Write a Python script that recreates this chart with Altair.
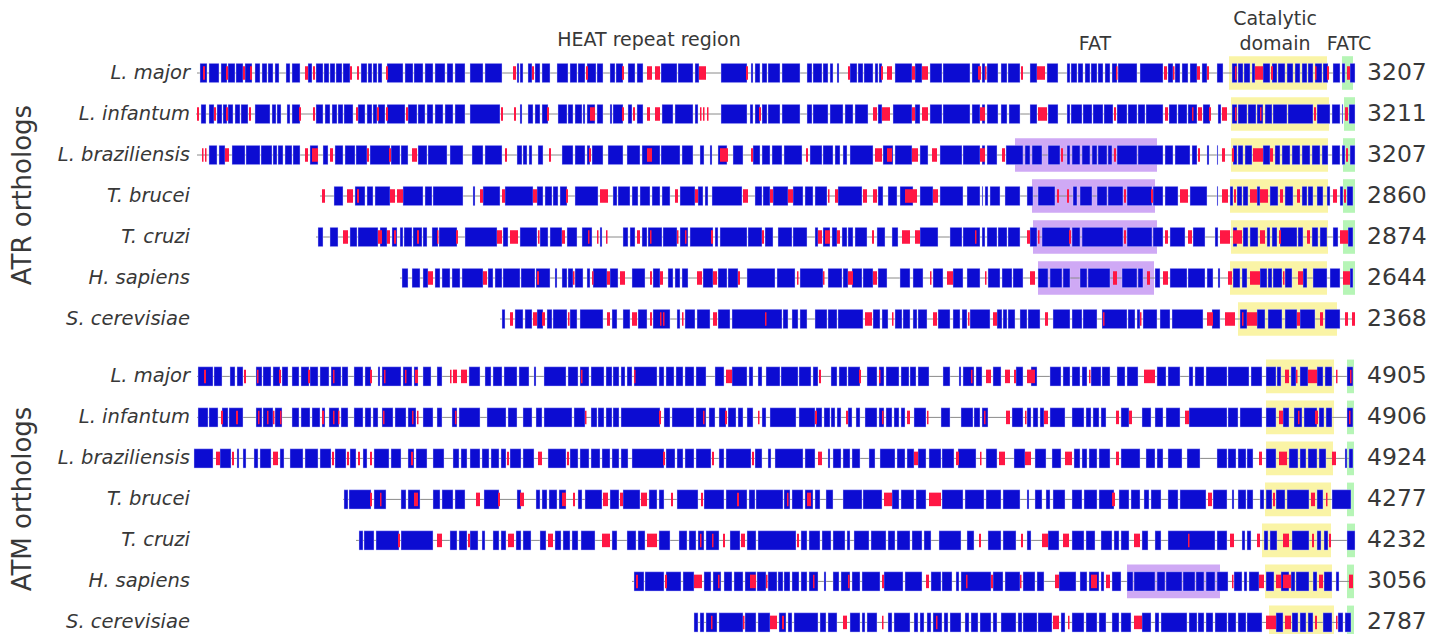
import altair as alt
import pandas as pd

# ---------------- data (alignment positions) ----------------
species = ["L. major", "L. infantum", "L. braziliensis", "T. brucei", "T. cruzi", "H. sapiens", "S. cerevisiae"]
atr_lengths = [3207, 3211, 3207, 2860, 2874, 2644, 2368]
atm_lengths = [4905, 4906, 4924, 4277, 4232, 3056, 2787]

atr_span = [[197, 1355], [196, 1355], [197, 1355], [320, 1353], [316, 1353], [400, 1353], [500, 1355]]
atm_span = [[197, 1353], [197, 1353], [194, 1353], [343, 1351], [356, 1355], [632, 1353], [694, 1351]]

atr_catalytic = [[1229, 1327], [1231, 1329], [1231, 1328], [1230, 1328], [1231, 1328], [1230, 1327], [1238, 1337]]
atm_catalytic = [[1266, 1334], [1266, 1334], [1266, 1333], [1265, 1331], [1262, 1331], [1265, 1332], [1269, 1334]]
atr_fatc = [[1342, 1353], [1344, 1355], [1343, 1355], [1343, 1355], [1343, 1355], [1343, 1355], None]
atm_fatc = [[1347, 1354], [1347, 1354], [1347, 1354], [1347, 1354], [1347, 1355], [1347, 1354], [1347, 1354]]
atr_fat = [None, None, [1015, 1157], [1032, 1155], [1033, 1157], [1038, 1154], None]
atm_fat = [None, None, None, None, None, [1127, 1220], None]

atr_lmaj_blue = [[200,207],[209,219],[221,227],[228,235],[236,243],[245,252],[255,260],[262,267],[268,273],[275,279],[286,290],[292,300],[308,312],[316,323],[324,329],[330,335],[336,342],[343,350],[361,367],[368,372],[373,377],[378,382],[387,403],[405,413],[414,423],[425,433],[435,445],[447,453],[455,465],[470,483],[485,502],[517,519],[520,523],[528,532],[535,540],[542,550],[557,568],[570,577],[578,585],[587,596],[597,603],[610,615],[616,623],[628,635],[637,643],[661,677],[678,693],[695,699],[721,747],[751,753],[755,760],[762,767],[768,780],[782,800],[807,812],[813,822],[823,828],[830,833],[837,839],[850,857],[858,863],[864,873],[875,878],[879,882],[895,912],[915,922],[930,942],[943,970],[972,980],[982,985],[987,998],[1001,1007],[1008,1020],[1030,1037],[1047,1058],[1067,1070],[1071,1077],[1078,1083],[1085,1090],[1091,1097],[1098,1103],[1105,1110],[1112,1117],[1118,1137],[1140,1163],[1168,1173],[1175,1180],[1182,1188],[1190,1197],[1202,1207],[1217,1223],[1232,1237],[1238,1243],[1244,1250],[1252,1255],[1263,1270],[1272,1277],[1278,1285],[1287,1293],[1295,1300],[1302,1307],[1308,1313],[1315,1322],[1323,1328],[1333,1340],[1342,1345],[1350,1355]]
atr_lmaj_red = [[203,205],[226,228],[243,245],[250,252],[305,308],[313,315],[350,352],[357,359],[386,388],[513,516],[532,534],[586,588],[622,624],[647,652],[655,660],[699,706],[746,748],[848,850],[881,883],[887,892],[912,915],[922,928],[978,981],[985,986],[1021,1023],[1037,1045],[1116,1117],[1164,1167],[1173,1174],[1197,1200],[1207,1209],[1235,1236],[1255,1263],[1271,1273],[1315,1316],[1327,1329],[1347,1350]]

atr_linf_blue = [[201,206],[209,214],[217,222],[223,227],[228,233],[235,240],[241,248],[255,270],[272,276],[277,281],[287,290],[292,300],[316,323],[325,330],[332,337],[338,343],[344,353],[358,365],[367,372],[373,377],[378,385],[387,405],[408,417],[418,425],[427,433],[435,443],[445,453],[455,465],[470,500],[520,522],[528,533],[535,540],[542,548],[558,567],[568,573],[575,582],[583,585],[587,595],[597,603],[610,612],[613,623],[628,632],[637,643],[662,673],[675,693],[695,698],[721,747],[750,753],[755,760],[762,767],[768,780],[782,800],[807,812],[813,828],[830,843],[845,853],[855,868],[878,882],[893,912],[915,920],[930,942],[943,970],[972,980],[982,985],[987,998],[1001,1007],[1009,1020],[1030,1037],[1048,1058],[1067,1070],[1071,1082],[1083,1092],[1093,1103],[1104,1113],[1117,1127],[1128,1137],[1138,1145],[1146,1163],[1169,1177],[1178,1187],[1188,1197],[1203,1210],[1218,1221],[1232,1237],[1238,1247],[1248,1256],[1257,1263],[1265,1272],[1273,1287],[1288,1313],[1317,1330],[1332,1340],[1342,1343],[1349,1355]]
atr_linf_red = [[197,199],[214,216],[226,228],[249,251],[299,301],[313,315],[356,358],[377,379],[386,388],[406,408],[501,503],[514,516],[547,549],[590,595],[622,624],[633,635],[647,650],[655,660],[700,701],[703,704],[707,708],[759,761],[873,877],[882,890],[912,915],[922,928],[980,985],[1038,1047],[1114,1116],[1165,1168],[1192,1193],[1198,1202],[1209,1211],[1222,1227],[1235,1236],[1260,1261],[1314,1316],[1345,1348]]

atr_lbra_blue = [[209,217],[219,225],[232,245],[246,260],[261,272],[273,277],[278,283],[285,292],[293,300],[310,318],[323,328],[335,343],[345,355],[356,367],[370,390],[391,400],[401,408],[418,427],[428,447],[450,463],[472,483],[485,502],[517,522],[523,527],[529,532],[538,543],[562,573],[575,585],[587,590],[592,603],[608,623],[627,640],[642,660],[661,680],[682,693],[700,704],[710,712],[718,727],[733,743],[753,760],[762,770],[772,782],[784,802],[810,822],[823,833],[835,840],[843,847],[850,873],[883,893],[895,912],[920,928],[940,962],[963,980],[982,985],[987,997],[1006,1023],[1025,1030],[1032,1042],[1048,1060],[1067,1070],[1072,1080],[1082,1090],[1092,1097],[1098,1107],[1108,1112],[1117,1137],[1138,1163],[1165,1173],[1175,1190],[1192,1197],[1207,1209],[1217,1218],[1233,1237],[1238,1243],[1245,1252],[1263,1270],[1275,1280],[1282,1290],[1292,1300],[1302,1310],[1312,1320],[1322,1328],[1332,1340],[1342,1345],[1350,1355]]
atr_lbra_red = [[202,203],[205,206],[225,229],[305,308],[312,318],[330,333],[367,369],[389,391],[412,417],[505,507],[549,551],[589,591],[647,652],[720,728],[751,753],[806,808],[875,882],[887,892],[912,918],[932,937],[980,985],[1002,1005],[1061,1063],[1114,1116],[1198,1200],[1222,1225],[1232,1234],[1253,1263],[1270,1273],[1346,1348]]

atr_tbru_blue = [[334,343],[355,365],[367,373],[375,390],[403,423],[425,432],[433,463],[473,475],[483,500],[505,533],[537,543],[545,552],[553,558],[560,567],[575,598],[613,617],[618,630],[632,638],[640,650],[652,660],[662,670],[680,695],[698,703],[705,708],[712,742],[755,762],[763,770],[773,788],[793,803],[805,813],[815,827],[838,862],[878,883],[888,897],[900,913],[920,933],[940,963],[967,980],[982,983],[985,988],[990,1000],[1005,1020],[1027,1033],[1038,1055],[1073,1077],[1080,1092],[1097,1107],[1108,1123],[1127,1152],[1153,1163],[1165,1178],[1190,1207],[1217,1218],[1230,1233],[1237,1242],[1243,1248],[1257,1260],[1270,1278],[1285,1293],[1302,1307],[1308,1313],[1317,1323],[1327,1330],[1340,1343],[1347,1353]]
atr_tbru_red = [[322,325],[347,353],[357,359],[390,395],[397,403],[480,483],[502,505],[533,537],[566,568],[600,608],[675,678],[695,698],[743,748],[770,773],[788,793],[828,829],[835,838],[863,867],[873,877],[905,917],[933,938],[1057,1059],[1067,1069],[1124,1126],[1151,1153],[1180,1188],[1222,1228],[1234,1236],[1250,1257],[1260,1268],[1280,1283],[1297,1300],[1333,1337],[1344,1346]]

atr_tcru_blue = [[318,323],[330,338],[350,357],[358,378],[380,387],[392,397],[400,403],[404,412],[413,422],[423,427],[432,438],[439,457],[465,497],[503,508],[520,537],[540,548],[550,562],[567,577],[582,592],[600,602],[623,628],[630,635],[642,647],[648,662],[663,677],[680,688],[690,713],[715,718],[720,747],[748,762],[765,773],[778,792],[793,807],[815,818],[823,830],[832,837],[842,847],[848,853],[855,867],[877,885],[892,898],[920,938],[950,962],[963,980],[982,985],[987,997],[998,1007],[1008,1020],[1030,1037],[1042,1070],[1072,1080],[1082,1123],[1127,1152],[1153,1163],[1170,1185],[1193,1205],[1215,1218],[1233,1237],[1243,1248],[1250,1258],[1267,1270],[1272,1277],[1280,1297],[1298,1303],[1312,1318],[1320,1327],[1333,1338],[1348,1353]]
atr_tcru_red = [[343,348],[378,382],[387,390],[394,396],[417,419],[437,438],[456,458],[497,502],[510,518],[538,539],[562,565],[588,589],[597,598],[606,607],[637,640],[650,651],[677,678],[685,686],[711,713],[762,764],[818,822],[825,830],[837,840],[872,874],[902,910],[915,920],[975,976],[1027,1030],[1038,1039],[1069,1071],[1124,1126],[1165,1168],[1188,1192],[1220,1230],[1233,1242],[1260,1265],[1279,1281],[1307,1310],[1340,1348]]

atr_hsap_blue = [[402,408],[412,420],[423,428],[435,440],[442,450],[452,460],[462,483],[488,493],[495,502],[503,520],[521,535],[536,550],[555,557],[562,567],[568,573],[575,583],[587,590],[593,607],[610,618],[632,645],[653,660],[668,673],[675,680],[682,688],[703,713],[718,727],[728,738],[747,775],[777,795],[800,823],[828,842],[843,848],[852,862],[863,873],[878,887],[900,910],[913,923],[933,943],[953,963],[967,980],[988,1000],[1002,1012],[1013,1023],[1038,1048],[1050,1062],[1063,1070],[1080,1087],[1088,1110],[1122,1137],[1138,1143],[1155,1160],[1170,1187],[1188,1205],[1207,1213],[1218,1220],[1233,1240],[1242,1247],[1260,1267],[1268,1272],[1273,1282],[1285,1292],[1303,1307],[1313,1327],[1330,1340],[1350,1353]]
atr_hsap_red = [[428,433],[483,487],[537,539],[573,574],[592,593],[607,610],[620,625],[650,652],[660,663],[697,702],[713,717],[738,740],[797,798],[823,824],[848,853],[873,877],[930,931],[947,953],[985,986],[1030,1035],[1113,1117],[1147,1150],[1163,1168],[1228,1232],[1250,1260],[1283,1284],[1298,1303],[1343,1350]]

atr_scer_blue = [[502,505],[515,523],[525,532],[537,543],[547,552],[553,567],[570,577],[580,603],[612,617],[623,630],[638,647],[653,670],[677,680],[685,695],[697,710],[718,730],[732,782],[783,788],[792,798],[800,807],[815,827],[828,837],[838,863],[873,880],[882,888],[895,902],[903,910],[913,917],[918,927],[938,950],[953,960],[962,967],[970,990],[997,1002],[1003,1007],[1008,1015],[1020,1027],[1028,1040],[1053,1070],[1072,1082],[1083,1097],[1102,1127],[1128,1135],[1137,1140],[1143,1157],[1160,1170],[1172,1203],[1212,1220],[1240,1247],[1257,1265],[1268,1282],[1285,1297],[1300,1315],[1325,1340]]
atr_scer_red = [[510,513],[533,537],[542,545],[568,569],[607,610],[632,637],[650,652],[660,661],[663,664],[682,683],[713,717],[765,766],[865,872],[892,893],[933,937],[968,969],[993,997],[1045,1048],[1103,1104],[1140,1141],[1207,1213],[1225,1235],[1242,1243],[1247,1257],[1297,1300],[1320,1323],[1345,1348],[1352,1355]]

atm_lmaj_blue = [[198,213],[214,222],[230,235],[237,243],[256,262],[263,271],[273,280],[282,288],[292,299],[301,309],[310,318],[320,329],[331,341],[342,348],[354,363],[365,371],[378,380],[382,401],[403,412],[414,418],[423,431],[437,442],[469,480],[485,491],[493,502],[504,517],[519,529],[534,536],[544,566],[568,578],[580,589],[591,604],[606,612],[613,619],[621,625],[627,632],[634,657],[659,664],[666,674],[676,683],[685,694],[696,706],[715,724],[732,747],[749,753],[758,762],[766,780],[781,798],[799,811],[813,818],[831,837],[839,847],[848,860],[867,877],[879,884],[886,899],[901,909],[910,916],[918,929],[943,950],[959,961],[963,974],[976,982],[993,1001],[1016,1023],[1031,1037],[1050,1061],[1063,1070],[1072,1080],[1082,1087],[1091,1101],[1102,1110],[1117,1125],[1127,1138],[1157,1166],[1168,1180],[1189,1193],[1195,1204],[1206,1227],[1228,1249],[1251,1262],[1266,1276],[1277,1281],[1291,1296],[1300,1308],[1317,1323],[1325,1332],[1347,1353]]
atm_lmaj_red = [[204,206],[244,246],[257,258],[279,281],[308,310],[333,334],[370,372],[384,385],[405,406],[415,418],[450,451],[453,457],[461,467],[581,582],[634,635],[726,732],[819,821],[859,861],[879,880],[971,972],[986,991],[1005,1010],[1014,1016],[1027,1035],[1089,1090],[1144,1155],[1285,1289],[1296,1297],[1308,1317],[1336,1337],[1350,1351]]

atm_linf_blue = [[198,208],[209,218],[222,228],[229,243],[256,262],[263,273],[275,282],[292,299],[301,310],[312,320],[322,325],[329,339],[341,348],[354,363],[365,371],[373,378],[382,393],[395,406],[408,416],[423,433],[437,442],[452,457],[459,480],[487,506],[508,517],[523,532],[536,542],[544,572],[574,585],[591,597],[598,604],[606,612],[613,619],[621,660],[664,670],[672,694],[696,706],[709,715],[719,726],[728,736],[738,743],[747,753],[762,766],[770,796],[799,815],[816,822],[824,830],[831,835],[837,841],[848,852],[856,860],[865,877],[879,884],[886,892],[894,899],[901,905],[914,926],[941,950],[961,973],[974,980],[982,988],[1012,1023],[1027,1031],[1033,1038],[1040,1044],[1050,1065],[1072,1084],[1086,1091],[1093,1099],[1101,1106],[1121,1129],[1142,1151],[1155,1163],[1166,1180],[1189,1227],[1228,1238],[1240,1262],[1266,1276],[1283,1289],[1294,1302],[1304,1317],[1319,1324],[1326,1332],[1347,1353]]
atm_linf_red = [[221,223],[236,238],[258,259],[267,268],[273,274],[280,281],[322,324],[333,334],[338,339],[383,384],[412,413],[417,418],[455,456],[585,586],[659,661],[703,704],[725,727],[758,759],[815,817],[846,848],[882,883],[907,910],[927,928],[984,985],[1006,1010],[1025,1026],[1044,1048],[1116,1119],[1129,1132],[1185,1189],[1279,1283],[1298,1299],[1315,1318],[1349,1350]]

atm_lbra_blue = [[194,213],[220,231],[237,239],[243,246],[254,258],[260,271],[280,284],[290,303],[305,318],[320,331],[335,346],[350,356],[363,367],[374,389],[391,401],[408,414],[416,427],[433,444],[453,459],[461,467],[470,480],[482,489],[491,499],[501,506],[510,521],[523,534],[548,566],[570,578],[580,589],[591,600],[602,610],[612,619],[621,628],[632,664],[666,675],[677,683],[685,694],[696,711],[719,724],[726,751],[755,762],[768,771],[775,803],[805,815],[828,830],[833,841],[843,850],[852,860],[869,875],[880,895],[897,905],[907,914],[918,926],[929,941],[942,954],[958,976],[986,997],[1014,1025],[1035,1046],[1052,1061],[1074,1080],[1082,1087],[1089,1097],[1099,1110],[1121,1140],[1146,1155],[1157,1163],[1168,1182],[1187,1200],[1217,1227],[1228,1236],[1238,1246],[1247,1253],[1266,1276],[1289,1298],[1300,1306],[1308,1317],[1319,1326],[1345,1347],[1349,1353]]
atm_lbra_red = [[216,220],[232,234],[273,278],[332,334],[347,349],[358,360],[370,372],[411,413],[507,509],[538,542],[567,569],[663,665],[712,714],[752,754],[818,822],[914,918],[956,959],[980,981],[999,1005],[1025,1031],[1065,1072],[1116,1119],[1259,1262],[1279,1287],[1332,1336]]

atm_tbru_blue = [[344,348],[349,371],[374,386],[401,406],[408,420],[433,440],[442,453],[455,465],[484,499],[517,521],[536,540],[542,547],[549,557],[559,566],[578,582],[585,602],[610,619],[623,640],[649,657],[659,664],[677,698],[704,724],[726,747],[749,755],[756,783],[784,790],[792,803],[805,813],[815,820],[826,833],[843,862],[863,882],[892,899],[901,914],[916,926],[942,963],[965,984],[986,1001],[1003,1020],[1027,1029],[1035,1042],[1046,1050],[1053,1065],[1072,1082],[1084,1097],[1099,1114],[1119,1129],[1131,1140],[1144,1149],[1151,1161],[1168,1178],[1180,1206],[1213,1227],[1232,1234],[1238,1246],[1247,1253],[1260,1264],[1266,1272],[1276,1285],[1287,1309],[1317,1323],[1332,1351]]
atm_tbru_red = [[370,372],[380,381],[414,418],[476,480],[498,500],[520,524],[562,566],[573,575],[603,608],[620,623],[641,647],[671,673],[701,703],[737,739],[787,788],[807,811],[884,892],[929,941],[1112,1115],[1208,1212],[1273,1275],[1311,1315],[1326,1327]]

atm_tcru_blue = [[359,363],[364,374],[376,399],[401,433],[450,457],[459,467],[470,478],[482,485],[493,499],[501,506],[516,521],[523,531],[540,546],[555,561],[563,570],[572,578],[581,595],[612,617],[627,636],[638,645],[659,670],[679,687],[689,696],[698,704],[706,719],[730,740],[747,756],[758,796],[801,807],[809,820],[822,831],[833,845],[847,850],[854,869],[871,886],[888,895],[897,910],[912,922],[924,931],[939,961],[967,974],[988,1001],[1003,1016],[1027,1031],[1048,1059],[1072,1084],[1086,1095],[1101,1112],[1114,1119],[1121,1129],[1142,1148],[1155,1161],[1168,1215],[1217,1227],[1242,1245],[1247,1251],[1264,1268],[1270,1277],[1292,1309],[1317,1321],[1324,1328],[1347,1355]]
atm_tcru_red = [[398,400],[437,442],[468,470],[508,514],[548,553],[602,610],[647,657],[700,701],[712,713],[723,725],[741,745],[797,799],[979,981],[1021,1023],[1042,1048],[1063,1069],[1134,1140],[1188,1189],[1230,1234],[1257,1260],[1283,1289],[1312,1314],[1329,1331]]

atm_hsap_blue = [[634,644],[645,664],[666,681],[683,694],[704,711],[713,721],[724,732],[734,743],[745,756],[757,766],[768,777],[778,783],[784,790],[792,799],[801,807],[809,818],[824,826],[833,839],[841,850],[852,860],[862,880],[884,903],[905,922],[931,941],[942,952],[956,959],[961,991],[993,1003],[1005,1020],[1023,1035],[1037,1044],[1059,1076],[1080,1087],[1089,1099],[1101,1104],[1112,1121],[1127,1133],[1134,1155],[1157,1165],[1166,1182],[1183,1195],[1196,1204],[1206,1215],[1217,1228],[1234,1242],[1244,1247],[1249,1259],[1266,1274],[1281,1289],[1291,1295],[1296,1309],[1313,1317],[1324,1332],[1336,1339]]
atm_hsap_red = [[636,638],[665,667],[694,702],[718,719],[750,756],[766,767],[813,814],[848,849],[882,884],[926,929],[966,967],[991,993],[1020,1021],[1055,1059],[1091,1097],[1106,1110],[1232,1233],[1259,1264],[1276,1281],[1283,1291],[1319,1323],[1349,1353]]

atm_scer_blue = [[694,698],[700,704],[706,717],[719,743],[745,756],[758,770],[779,786],[788,792],[794,818],[820,826],[828,837],[850,860],[862,865],[867,877],[888,892],[894,910],[914,918],[920,924],[927,931],[933,942],[944,948],[950,961],[965,969],[971,978],[980,991],[993,997],[1001,1016],[1018,1022],[1023,1037],[1038,1052],[1061,1065],[1072,1084],[1086,1097],[1099,1106],[1112,1119],[1121,1131],[1142,1151],[1155,1159],[1161,1187],[1189,1197],[1198,1204],[1206,1213],[1215,1227],[1228,1236],[1238,1246],[1247,1262],[1276,1283],[1292,1298],[1300,1306],[1308,1313],[1323,1332],[1338,1343],[1345,1351]]
atm_scer_red = [[711,712],[743,744],[770,777],[782,784],[843,847],[882,883],[936,937],[1053,1059],[1068,1069],[1134,1142],[1266,1276],[1285,1291],[1315,1317],[1336,1337]]

# ---------------- assemble tables ----------------
atr_blocks = [(atr_lmaj_blue, atr_lmaj_red), (atr_linf_blue, atr_linf_red), (atr_lbra_blue, atr_lbra_red),
              (atr_tbru_blue, atr_tbru_red), (atr_tcru_blue, atr_tcru_red), (atr_hsap_blue, atr_hsap_red),
              (atr_scer_blue, atr_scer_red)]
atm_blocks = [(atm_lmaj_blue, atm_lmaj_red), (atm_linf_blue, atm_linf_red), (atm_lbra_blue, atm_lbra_red),
              (atm_tbru_blue, atm_tbru_red), (atm_tcru_blue, atm_tcru_red), (atm_hsap_blue, atm_hsap_red),
              (atm_scer_blue, atm_scer_red)]

GROUP_GAP = 0.4
BLUE_H, RED_H, HL_H = 0.235, 0.165, 0.41

rows, blues, reds, hls = [], [], [], []
for g, (blocks, spans, lens, cat, fatc, fat) in enumerate([
        (atr_blocks, atr_span, atr_lengths, atr_catalytic, atr_fatc, atr_fat),
        (atm_blocks, atm_span, atm_lengths, atm_catalytic, atm_fatc, atm_fat)]):
    for i in range(7):
        slot = g * (7 + GROUP_GAP) + i
        rows.append({"slot": slot, "species": species[i], "length": str(lens[i]),
                     "start": spans[i][0], "end": spans[i][1]})
        for s, e in blocks[i][0]:
            blues.append({"start": s, "end": e, "y1": slot - BLUE_H, "y2": slot + BLUE_H})
        for s, e in blocks[i][1]:
            reds.append({"start": s, "end": max(e, s + 1.5), "y1": slot - RED_H, "y2": slot + RED_H})
        for kind, reg in (("Catalytic", cat[i]), ("FATC", fatc[i]), ("FAT", fat[i])):
            if reg is not None:
                hls.append({"kind": kind, "start": reg[0], "end": reg[1],
                            "y1": slot - HL_H, "y2": slot + HL_H})

rows_df = pd.DataFrame(rows)
blue_df = pd.DataFrame(blues)
red_df = pd.DataFrame(reds)
hl_df = pd.DataFrame(hls)

# ---------------- scales ----------------
W, H = 1430, 626
xs = alt.Scale(domain=[8, 1438], nice=False, zero=False)
s0 = -65 / 41
ys = alt.Scale(domain=[s0, s0 + H / 41], nice=False, zero=False, reverse=True)
FONT = "DejaVu Sans"
TXT = "#383838"

hl = alt.Chart(hl_df).mark_rect().encode(
    x=alt.X("start:Q", scale=xs, axis=None), x2="end:Q",
    y=alt.Y("y1:Q", scale=ys, axis=None), y2="y2:Q",
    color=alt.Color("kind:N", legend=None,
                    scale=alt.Scale(domain=["Catalytic", "FAT", "FATC"],
                                    range=["#faf4a6", "#cfa9f5", "#b6f5b6"])))

line = alt.Chart(rows_df).mark_rule(color="#8a8a8a", strokeWidth=1).encode(
    x=alt.X("start:Q", scale=xs, axis=None), x2="end:Q",
    y=alt.Y("slot:Q", scale=ys, axis=None))

blue = alt.Chart(blue_df).mark_rect(color="#0c0cd2", stroke="#dcdcff", strokeWidth=0.4).encode(
    x=alt.X("start:Q", scale=xs, axis=None), x2="end:Q",
    y=alt.Y("y1:Q", scale=ys, axis=None), y2="y2:Q")

red = alt.Chart(red_df).mark_rect(color="#ff1744").encode(
    x=alt.X("start:Q", scale=xs, axis=None), x2="end:Q",
    y=alt.Y("y1:Q", scale=ys, axis=None), y2="y2:Q")

names = alt.Chart(rows_df).mark_text(align="right", baseline="middle", font=FONT, fontSize=19.5,
                                     fontStyle="italic", color=TXT).encode(
    x=alt.value(182), y=alt.Y("slot:Q", scale=ys, axis=None), text="species:N")

lengths = alt.Chart(rows_df).mark_text(align="left", baseline="middle", font=FONT, fontSize=23.5,
                                       color=TXT).encode(
    x=alt.value(1359), y=alt.Y("slot:Q", scale=ys, axis=None), text="length:N")

def note(txt, px, py, size=19, angle=0):
    return alt.Chart(pd.DataFrame({"t": [txt]})).mark_text(
        align="center", baseline="middle", font=FONT, fontSize=size, color=TXT, angle=angle
    ).encode(x=alt.value(px - 8), y=alt.value(py - 8), text="t:N")

notes = [
    note("HEAT repeat region", 649, 40),
    note("FAT", 1095, 44),
    note("Catalytic", 1275, 19),
    note("domain", 1275, 44),
    note("FATC", 1349, 44),
    note("ATR orthologs", 23, 195, size=26, angle=270),
    note("ATM orthologs", 23, 499, size=26, angle=270),
]

chart = alt.layer(hl, line, blue, red, names, lengths, *notes).properties(
    width=W, height=H, autosize=alt.AutoSizeParams(type="none"), padding=0, background="white"
).configure_view(stroke="transparent", strokeWidth=0)

chart.save("out.html", embed_options={"renderer": "svg", "actions": False})
